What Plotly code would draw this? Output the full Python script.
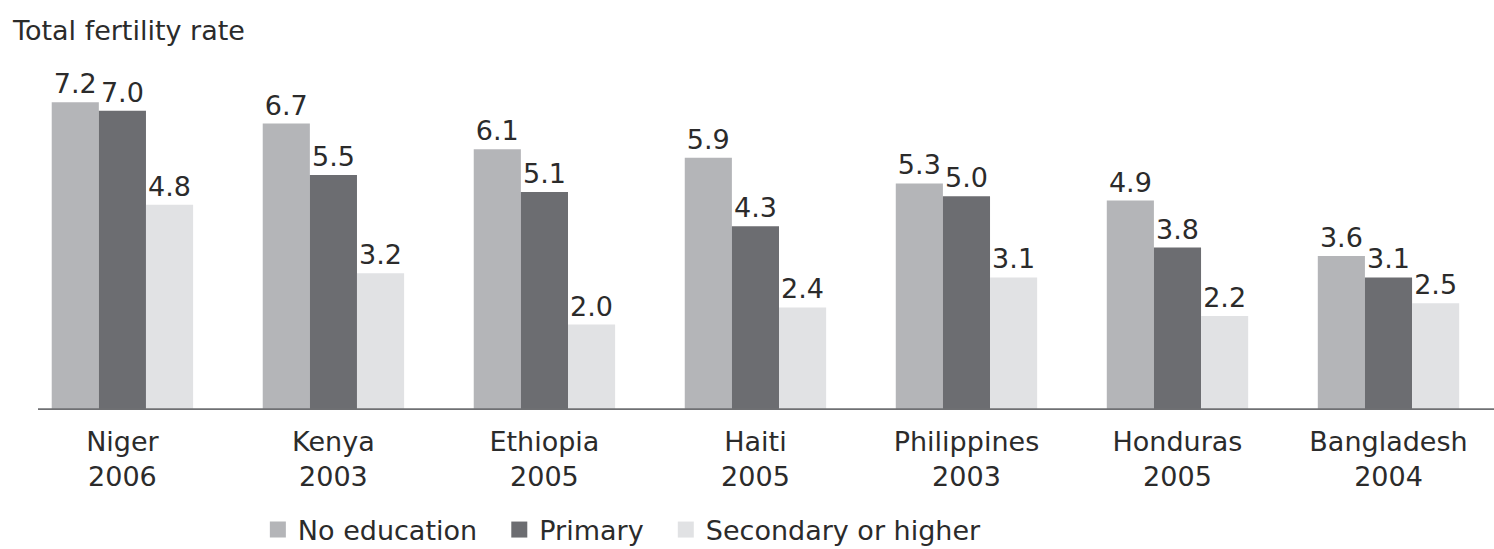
import plotly.graph_objects as go

categories = ["Niger<br>2006", "Kenya<br>2003", "Ethiopia<br>2005", "Haiti<br>2005",
              "Philippines<br>2003", "Honduras<br>2005", "Bangladesh<br>2004"]
no_education = [7.2, 6.7, 6.1, 5.9, 5.3, 4.9, 3.6]
primary = [7.0, 5.5, 5.1, 4.3, 5.0, 3.8, 3.1]
secondary = [4.8, 3.2, 2.0, 2.4, 3.1, 2.2, 2.5]
series_names = ["No education", "Primary", "Secondary or higher"]
series_colors = ["#b4b5b8", "#6c6d71", "#e1e2e4"]
series_values = [no_education, primary, secondary]

FONT = "DejaVu Sans"
TXT = "#2b2b2b"
NBSP = "\u00a0"
fig = go.Figure()
for name, vals, col in zip(series_names, series_values, series_colors):
    fig.add_trace(go.Bar(
        name=name, x=categories, y=vals, marker=dict(color=col, line=dict(width=0)),
        text=[f"{v:.1f}" for v in vals], textposition="outside",
        textfont=dict(family=FONT, size=27, color=TXT),
        constraintext="none", cliponaxis=False, showlegend=False,
    ))
# legend entries with larger square swatches
for i, (name, col) in enumerate(zip(series_names, series_colors)):
    label = name + (NBSP * 2 if i < len(series_names) - 1 else "")
    fig.add_trace(go.Scatter(
        name=label, x=[None], y=[None], mode="markers",
        marker=dict(symbol="square", size=18, color=col, line=dict(width=0)),
        showlegend=True,
    ))

fig.update_layout(
    width=1494, height=549,
    margin=dict(l=38, r=0, t=68, b=139),
    paper_bgcolor="white", plot_bgcolor="white",
    barmode="group", bargap=0.33, bargroupgap=0,
    font=dict(family=FONT, size=27, color=TXT),
    showlegend=True,
    legend=dict(orientation="h", x=0.151, xanchor="left",
                yref="container", y=1 - 530 / 549, yanchor="middle",
                font=dict(family=FONT, size=27, color=TXT),
                itemwidth=30, traceorder="normal", itemsizing="trace"),
    xaxis=dict(range=[-0.4, 6.5], showgrid=False, ticks="", showline=False,
               ticklabelstandoff=13,
               tickfont=dict(family=FONT, size=27, color=TXT)),
    yaxis=dict(range=[0, 8], showgrid=False, showticklabels=False, zeroline=False,
               showline=False, ticks=""),
    shapes=[dict(type="line", xref="paper", yref="y", x0=0, x1=1, y0=0, y1=0,
                 line=dict(color="#6f7073", width=3.5))],
    annotations=[dict(text="Total fertility rate", xref="paper", yref="paper",
                      x=-0.019, y=1.0, yshift=38, xanchor="left", yanchor="middle",
                      showarrow=False, font=dict(family=FONT, size=27, color=TXT))],
)

fig.write_html("out.html")
